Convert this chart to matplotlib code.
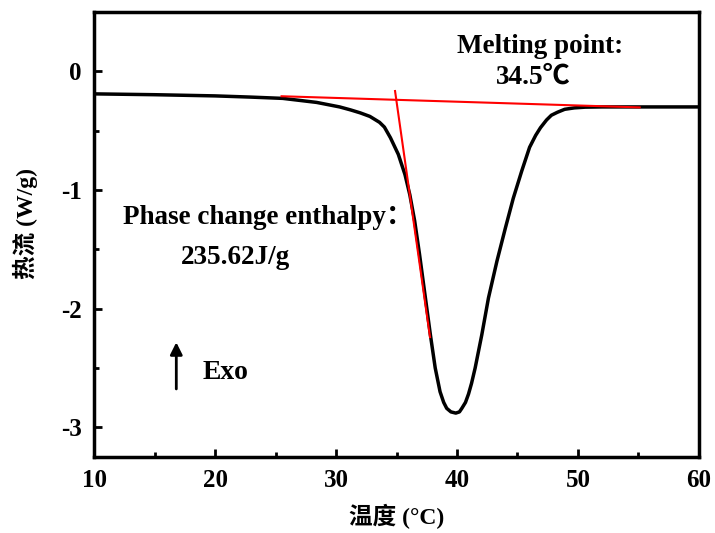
import matplotlib.pyplot as plt

plt.rcParams['font.family'] = ['Liberation Serif', 'Noto Sans CJK SC', 'DejaVu Sans']
plt.rcParams['font.weight'] = 'bold'
plt.rcParams['axes.labelweight'] = 'bold'
plt.rcParams['axes.unicode_minus'] = False

# DSC heat flow curve
temp = [10, 15, 20, 22.9, 25.6, 28.4, 30.3, 31.2, 32.0, 32.8, 33.6, 34.0,
        34.5, 35.15, 35.7, 36.1, 36.5, 36.9, 37.35, 37.8, 38.2, 38.6, 38.9,
        39.15, 39.5, 39.9, 40.2, 40.4, 40.7, 40.95, 41.2, 41.5, 42.05, 42.6,
        43.3, 44.0, 44.65, 45.35, 46.0, 46.5, 46.9, 47.4, 47.8, 48.3, 48.9,
        49.7, 50.6, 52, 55, 60]
heat_flow = [-0.19, -0.197, -0.207, -0.217, -0.228, -0.262, -0.30, -0.325,
             -0.35, -0.38, -0.43, -0.47, -0.56, -0.70, -0.87, -1.04, -1.26,
             -1.54, -1.88, -2.22, -2.50, -2.70, -2.79, -2.84, -2.87, -2.88,
             -2.87, -2.84, -2.79, -2.72, -2.63, -2.50, -2.22, -1.91, -1.60,
             -1.32, -1.07, -0.84, -0.64, -0.54, -0.475, -0.41, -0.37, -0.345,
             -0.32, -0.308, -0.302, -0.30, -0.30, -0.30]

# onset construction lines
base_x = [25.5, 55.1]
base_y = [-0.21, -0.304]
tan_x = [34.88, 37.77]
tan_y = [-0.166, -2.24]

fig = plt.figure(figsize=(7.15, 5.33), dpi=100)
ax = fig.add_axes([0.1315, 0.1426, 0.8461, 0.8349])

ax.plot(temp, heat_flow, color='black', linewidth=2.5, solid_joinstyle='round')
ax.plot(base_x, base_y, color='red', linewidth=1.5)
ax.plot(tan_x, tan_y, color='red', linewidth=1.5)

ax.set_xlim(10, 60)
ax.set_ylim(-3.25, 0.5)
ax.set_xticks([10, 20, 30, 40, 50, 60])
ax.set_xticks([15, 25, 35, 45, 55], minor=True)
ax.set_yticks([-3, -2, -1, 0])
ax.set_yticks([-2.5, -1.5, -0.5], minor=True)
ax.tick_params(which='major', direction='in', length=6, width=2, labelsize=18, pad=9)
ax.tick_params(which='minor', direction='in', length=3.5, width=2)
for s in ax.spines.values():
    s.set_linewidth(2.5)

ax.set_xlabel('温度 (°C)', fontsize=17)
ax.set_ylabel('热流 (W/g)', fontsize=17)
ax.xaxis.set_label_coords(0.5, -0.105)
ax.yaxis.set_label_coords(-0.093, 0.525)

ax.text(46.9, 0.21, 'Melting point:', fontsize=19.5, ha='center', va='center')
ax.text(46.3, -0.05, '34.5℃', fontsize=19.5, ha='center', va='center')
ax.text(12.4, -1.23, 'Phase change enthalpy：', fontsize=19.5, ha='left', va='center')
ax.text(17.2, -1.57, '235.62J/g', fontsize=19.5, ha='left', va='center')

ax.annotate('', xy=(16.8, -2.26), xytext=(16.8, -2.70),
            arrowprops=dict(arrowstyle='-|>', color='black', lw=2, mutation_scale=18))
ax.text(19.0, -2.54, 'Exo', fontsize=20, ha='left', va='center')

fig.savefig('out.png', dpi=100)
